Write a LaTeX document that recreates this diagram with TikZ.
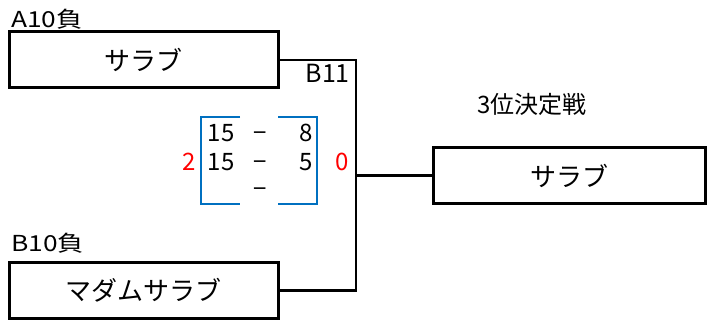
\documentclass[tikz,border=0pt]{standalone}
\usepackage{fontspec}
\setmainfont{Noto Sans CJK JP}
\newfontfamily\labfont[FakeStretch=1.2]{Noto Sans CJK JP}
\definecolor{xlblue}{RGB}{0,112,192}
\definecolor{xlred}{RGB}{255,0,0}
\begin{document}
\begin{tikzpicture}[x=1pt,y=-1pt,
  team/.style={draw=black,line width=3pt,minimum height=56pt,inner sep=0pt,font=\fontsize{26}{26}\selectfont},
  conn/.style={draw=black,line width=2.8pt,line join=miter},
  lab/.style={inner sep=0pt,font=\labfont\fontsize{22}{22}\selectfont},
  score/.style={inner sep=0pt,font=\fontsize{24}{24}\selectfont},
  win/.style={inner sep=0pt,text=xlred,font=\fontsize{24}{24}\selectfont},
  bracket/.style={draw=xlblue,line width=2.3pt,line join=miter}]
\useasboundingbox (0,0) rectangle (707,323);
% team boxes
\node[team,minimum width=269pt] (a) at (143.5,60) {サラブ};
\node[team,minimum width=269pt] (b) at (143.5,290.5) {マダムサラブ};
\node[team,minimum width=272pt] (w) at (569,175.5) {サラブ};
% labels
\node[lab,anchor=base west] (la) at (11,28) {A10負};
\node[lab,anchor=base west] (lb) at (11,252) {B10負};
\node[inner sep=0pt,anchor=base east,font=\fontsize{25}{25}\selectfont] (lm) at (350,83) {B11};
\node[inner sep=0pt,anchor=base west,font=\fontsize{24}{24}\selectfont] (lt) at (477,114) {3位決定戦};
% connectors
\coordinate (j) at (356,175.5);
\draw[conn] (a.east) -| (j) |- (b.east);
\draw[conn] (j) -- (w.west);
% score
\node[score,anchor=base west] (s1a) at (207.5,142) {15};
\node[score,anchor=base] (s1d) at (260.5,142) {−};
\node[score,anchor=base east] (s1b) at (313.5,142) {8};
\node[score,anchor=base west] (s2a) at (207.5,171) {15};
\node[score,anchor=base] (s2d) at (260.5,171) {−};
\node[score,anchor=base east] (s2b) at (313.5,171) {5};
\node[score,anchor=base] (s3d) at (260.5,198) {−};
\node[win,anchor=base] (ra) at (189,171) {2};
\node[win,anchor=base] (rb) at (342.5,171) {0};
\draw[bracket] (240,117) -- (201,117) -- (201,204) -- (240,204);
\draw[bracket] (278,117) -- (317,117) -- (317,204) -- (278,204);
\end{tikzpicture}
\end{document}
